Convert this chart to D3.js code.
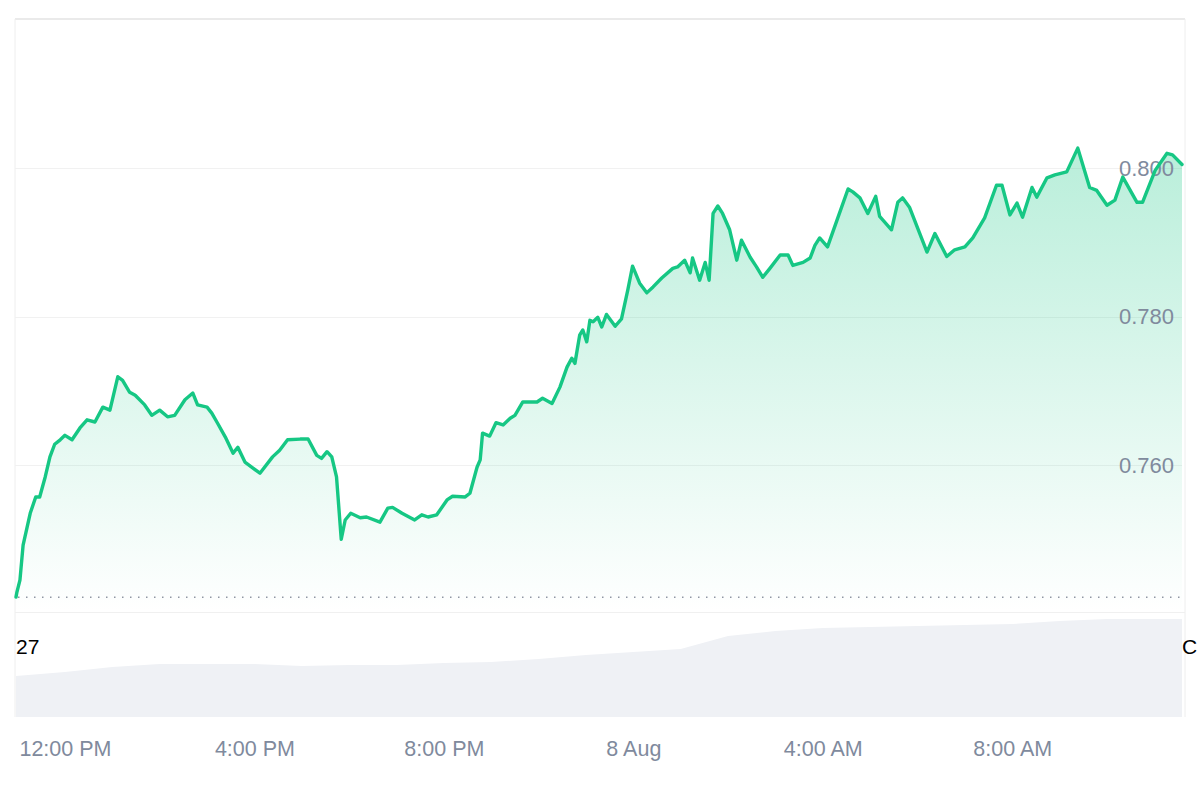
<!DOCTYPE html>
<html>
<head>
<meta charset="utf-8">
<script src="https://cdn.jsdelivr.net/npm/d3@7"></script>
<style>
  html, body { margin: 0; padding: 0; background: #fff; overflow: hidden; }
  svg { display: block; font-family: "Liberation Sans", Arial, sans-serif; }
</style>
</head>
<body>
<svg id="chart" width="1200" height="800"></svg>
<script>
// minutes after 12:00 PM, 7 Aug
let minutes = [-62,-61,-57,-53,-44,-37,-32,-25,-19,-13,-6,0,9,19,28,38,48,57,67,73,82,89,101,110,120,130,139,152,162,168,
  180,186,193,203,213,219,228,247,263,272,282,298,308,319,325,332,338,344,350,355,362,374,382,399,409,415,427,443,452,460,
  471,484,491,507,513,522,526,529,538,546,555,564,570,580,598,605,617,627,636,642,646,652,656,661,665,669,675,680,686,697,
  705,713,719,728,737,745,756,770,776,785,792,795,804,811,816,821,827,833,842,851,857,868,876,884,893,906,916,922,935,944,
  950,956,966,978,992,998,1007,1017,1027,1032,1047,1055,1061,1070,1092,1102,1117,1127,1140,1150,1165,1180,1187,1197,1206,
  1213,1225,1231,1244,1254,1269,1283,1298,1307,1320,1330,1340,1358,1365,1381,1396,1403,1415]

let prices = [0.7422,0.7428,0.7445,0.7492,0.7535,0.7557,0.7557,0.7584,0.7611,0.7628,0.7634,0.7640,0.7634,0.7650,0.7661,0.7658,0.7678,0.7674,0.7719,0.7714,0.7698,0.7694,0.7681,0.7667,0.7674,0.7665,0.7667,0.7688,0.7697,0.7681,
  0.7678,0.7670,0.7657,0.7638,0.7616,0.7624,0.7604,0.7589,0.7611,0.7620,0.7634,0.7635,0.7635,0.7613,0.7609,0.7618,0.7611,0.7584,0.7500,0.7526,0.7535,0.7529,0.7530,0.7523,0.7542,0.7543,0.7535,0.7526,0.7533,0.7530,
  0.7533,0.7553,0.7558,0.7557,0.7562,0.7597,0.7607,0.7643,0.7639,0.7657,0.7654,0.7663,0.7667,0.7685,0.7685,0.7690,0.7683,0.7705,0.7732,0.7744,0.7737,0.7775,0.7782,0.7766,0.7795,0.7793,0.7799,0.7786,0.7803,0.7787,
  0.7797,0.7836,0.7868,0.7845,0.7832,0.7840,0.7852,0.7865,0.7867,0.7876,0.7859,0.7879,0.7849,0.7873,0.7849,0.7939,0.7949,0.7939,0.7917,0.7876,0.7903,0.7880,0.7867,0.7853,0.7865,0.7883,0.7883,0.7869,0.7873,0.7879,
  0.7896,0.7906,0.7894,0.7930,0.7972,0.7968,0.7960,0.7939,0.7962,0.7935,0.7917,0.7954,0.7960,0.7947,0.7887,0.7912,0.7881,0.7890,0.7894,0.7906,0.7933,0.7977,0.7977,0.7937,0.7953,
  0.7934,0.7974,0.7961,0.7987,0.7991,0.7995,0.8027,0.7974,0.7970,0.7950,0.7957,0.7988,0.7954,0.7954,0.7997,0.8020,0.8018,0.8005]

let volMinutes = [-62,0,60,120,180,240,300,360,420,480,540,600,660,720,780,840,900,960,1020,1080,1140,1200,1260,1320,1380,1415]
let volumes = [41,45,50,53,53,53,51,52,52,54,55,58,62,65,68,81,86,89,90,91,92,93,96,98,98,98]

let priceTicks = [0.760, 0.780, 0.800]
let timeTickHours = [0, 4, 8, 12, 16, 20]

let noon = new Date(2024, 7, 7, 12, 0)
let toDate = m => new Date(noon.getTime() + m * 60000)

let data = minutes.map((m, i) => ({date: toDate(m), price: prices[i]}))
let vol = volMinutes.map((m, i) => ({date: toDate(m), v: volumes[i]}))

let svg = d3.select("#chart")
let green = "#16c784"
let font = "'Liberation Sans', Arial, sans-serif"

let x = d3.scaleTime()
  .domain([toDate(minutes[0]), toDate(minutes[minutes.length - 1])])
  .range([16, 1182])
let y = d3.scaleLinear()
  .domain([0.7402, 0.8201])
  .range([612, 19])
let yv = d3.scaleLinear()
  .domain([0, 98])
  .range([717, 619])

// gradient for price area
let defs = svg.append("defs")
let grad = defs.append("linearGradient")
  .attr("id", "fillGrad")
  .attr("gradientUnits", "userSpaceOnUse")
  .attr("x1", 0).attr("x2", 0)
  .attr("y1", y(d3.max(prices))).attr("y2", 612)
grad.append("stop").attr("offset", 0).attr("stop-color", green).attr("stop-opacity", 0.3)
grad.append("stop").attr("offset", 1).attr("stop-color", green).attr("stop-opacity", 0)

// frame
svg.append("line").attr("x1", 15).attr("x2", 1185).attr("y1", 19).attr("y2", 19)
  .attr("stroke", "#e3e3e3").attr("stroke-width", 1.5)
svg.append("line").attr("x1", 15).attr("x2", 15).attr("y1", 19).attr("y2", 717)
  .attr("stroke", "#eeeeee")
svg.append("line").attr("x1", 1185).attr("x2", 1185).attr("y1", 19).attr("y2", 717)
  .attr("stroke", "#eeeeee")
svg.append("line").attr("x1", 15).attr("x2", 1185).attr("y1", 612.5).attr("y2", 612.5)
  .attr("stroke", "#f0f0f0")

// grid
svg.append("g").selectAll("line")
  .data(priceTicks)
  .enter().append("line")
    .attr("x1", 15).attr("x2", 1182)
    .attr("y1", d => Math.round(y(d)) + 0.5)
    .attr("y2", d => Math.round(y(d)) + 0.5)
    .attr("stroke", "#f1f1f1")

// volume
svg.append("path")
  .datum(vol)
  .attr("fill", "#eff1f5")
  .attr("d", d3.area().x(d => x(d.date)).y0(717).y1(d => yv(d.v)))

// price area
svg.append("path")
  .datum(data)
  .attr("fill", "url(#fillGrad)")
  .attr("d", d3.area().x(d => x(d.date)).y0(612).y1(d => y(d.price)))

// baseline at opening price
svg.append("line")
  .attr("x1", 18).attr("x2", 1180)
  .attr("y1", y(prices[0])).attr("y2", y(prices[0]))
  .attr("stroke", "#8f96a3").attr("stroke-width", 1.5)
  .attr("stroke-dasharray", "1.5,6.5")

// y labels
let yaxis = d3.axisLeft(y).tickValues(priceTicks).tickFormat(d3.format(".3f")).tickSize(0).tickPadding(0)
let gy = svg.append("g").attr("transform", "translate(1174,0)").call(yaxis)
gy.select(".domain").remove()
gy.selectAll("text")
  .attr("fill", "#808a9d")
  .style("font-size", "22px")
  .style("font-family", font)

// price line
svg.append("path")
  .datum(data)
  .attr("fill", "none")
  .attr("stroke", green)
  .attr("stroke-width", 3.4)
  .attr("stroke-linejoin", "round")
  .attr("stroke-linecap", "round")
  .attr("d", d3.line().x(d => x(d.date)).y(d => y(d.price)))

// x labels
let fmt = d => d.getHours() === 0 ? d3.timeFormat("%-d %b")(d) : d3.timeFormat("%-I:%M %p")(d)
let xaxis = d3.axisBottom(x)
  .tickValues(timeTickHours.map(h => toDate(h * 60)))
  .tickFormat(fmt)
  .tickSize(0).tickPadding(0)
let gx = svg.append("g").attr("transform", "translate(0,748)").call(xaxis)
gx.select(".domain").remove()
gx.selectAll("text")
  .attr("y", 0).attr("dy", "0.36em")
  .attr("fill", "#808a9d")
  .style("font-size", "21.5px")
  .style("font-family", font)

// stray labels
svg.append("text").attr("x", 16).attr("y", 654)
  .style("font-size", "21px").attr("fill", "#000").text("27")
svg.append("text").attr("x", 1182).attr("y", 654)
  .style("font-size", "21px").attr("fill", "#000").text("C")
</script>
</body>
</html>
